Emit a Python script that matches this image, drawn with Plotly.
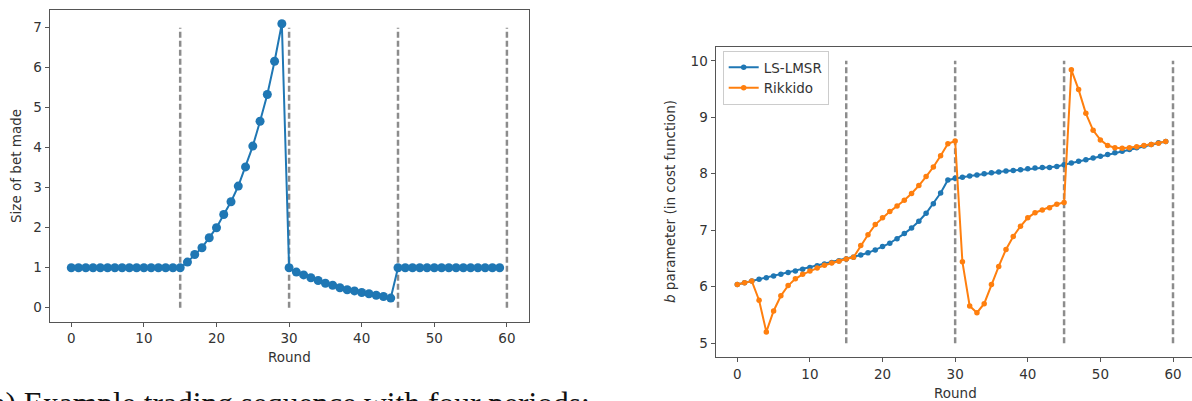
import plotly.graph_objects as go

W, H = 1192, 401

# ---- data ----
rounds = list(range(60))
bet_size = [1.0] * 16 + [1.14, 1.33, 1.50, 1.75, 2.00, 2.33, 2.65, 3.04, 3.52, 4.04, 4.66, 5.33, 6.16, 7.10,
             1.00, 0.89, 0.82, 0.75, 0.68, 0.61, 0.56, 0.50, 0.45, 0.42, 0.38, 0.35, 0.31, 0.28, 0.24] + [1.0] * 15

ls_lmsr = [6.04, 6.07, 6.10, 6.13, 6.16, 6.19, 6.22, 6.25, 6.28, 6.31, 6.34, 6.37, 6.40, 6.43, 6.46,
           6.49, 6.52, 6.56, 6.60, 6.65, 6.71, 6.77, 6.85, 6.94, 7.04, 7.16, 7.30, 7.47, 7.66, 7.89,
           7.92, 7.94, 7.96, 7.98, 8.00, 8.02, 8.03, 8.05, 8.06, 8.07, 8.09, 8.10, 8.11, 8.11, 8.13,
           8.16, 8.19, 8.22, 8.25, 8.28, 8.31, 8.34, 8.37, 8.40, 8.43, 8.46, 8.49, 8.52, 8.55, 8.57]

rikkido = [6.04, 6.07, 6.10, 5.76, 5.20, 5.57, 5.84, 6.02, 6.14, 6.22, 6.28, 6.33, 6.38, 6.42, 6.45,
           6.49, 6.52, 6.73, 6.92, 7.10, 7.22, 7.33, 7.43, 7.53, 7.65, 7.79, 7.95, 8.12, 8.32, 8.53,
           8.58, 6.44, 5.66, 5.54, 5.70, 6.04, 6.36, 6.66, 6.89, 7.07, 7.22, 7.31, 7.36, 7.40, 7.46,
           7.49, 9.84, 9.49, 9.07, 8.77, 8.60, 8.50, 8.46, 8.45, 8.46, 8.48, 8.50, 8.52, 8.54, 8.57]

period_bounds = [15, 30, 45, 60]
left_vline_span = [0, 7]
right_vline_span = [5, 10]

x_ticks = [0, 10, 20, 30, 40, 50, 60]
left_y_ticks = [0, 1, 2, 3, 4, 5, 6, 7]
right_y_ticks = [5, 6, 7, 8, 9, 10]

BLUE = "#1f77b4"
ORANGE = "#ff7f0e"
GRAY = "#8c8c8c"
AX = "#555555"
TXT = "#333333"
FONT = "DejaVu Sans"
FS = 13.5

fig = go.Figure()

# vertical dashed lines (period boundaries)
for b in period_bounds:
    fig.add_trace(go.Scatter(x=[b, b], y=left_vline_span, mode="lines", xaxis="x", yaxis="y",
                             line=dict(color=GRAY, width=2.5, dash="6px,3px"), showlegend=False,
                             hoverinfo="skip"))
    fig.add_trace(go.Scatter(x=[b, b], y=right_vline_span, mode="lines", xaxis="x2", yaxis="y2",
                             line=dict(color=GRAY, width=2.5, dash="6px,3px"), showlegend=False,
                             hoverinfo="skip"))

fig.add_trace(go.Scatter(x=rounds, y=bet_size, mode="lines+markers", xaxis="x", yaxis="y",
                         line=dict(color=BLUE, width=2), marker=dict(color=BLUE, size=9),
                         showlegend=False))

fig.add_trace(go.Scatter(x=rounds, y=ls_lmsr, mode="lines+markers", xaxis="x2", yaxis="y2",
                         name="LS-LMSR", line=dict(color=BLUE, width=2),
                         marker=dict(color=BLUE, size=5.5)))
fig.add_trace(go.Scatter(x=rounds, y=rikkido, mode="lines+markers", xaxis="x2", yaxis="y2",
                         name="Rikkido", line=dict(color=ORANGE, width=2),
                         marker=dict(color=ORANGE, size=5.5)))

def px_x(p):
    return p / W

def px_y(p):
    return 1 - p / H

axis_common = dict(showgrid=False, zeroline=False, showline=True, linecolor=AX, linewidth=1,
                   ticks="outside", ticklen=4, tickwidth=1, tickcolor=AX,
                   tickfont=dict(family=FONT, size=FS, color=TXT))

fig.update_layout(
    xaxis=dict(axis_common, domain=[px_x(49.5), px_x(528.7)], range=[-3, 63], tickvals=x_ticks,
               mirror=True, anchor="y"),
    yaxis=dict(axis_common, domain=[px_y(321.9), px_y(9.5)], range=[-0.355, 7.455],
               tickvals=left_y_ticks, mirror=True, anchor="x"),
    xaxis2=dict(axis_common, domain=[px_x(715.5), 1.0], range=[-3, -3 + (W - 715.5) / 7.262],
                tickvals=x_ticks, mirror=True, anchor="y2"),
    yaxis2=dict(axis_common, domain=[px_y(357.3), px_y(46.7)], range=[4.75, 10.25],
                tickvals=right_y_ticks, mirror=False, anchor="x2"),
)

annotations = [
    dict(text="Round", x=px_x(289), y=px_y(357), xref="paper", yref="paper",
         showarrow=False, font=dict(family=FONT, size=FS, color=TXT), xanchor="center", yanchor="middle"),
    dict(text="Size of bet made", x=px_x(16), y=px_y(166), xref="paper", yref="paper", textangle=-90,
         showarrow=False, font=dict(family=FONT, size=FS, color=TXT), xanchor="center", yanchor="middle"),
    dict(text="Round", x=px_x(955), y=px_y(392.5), xref="paper", yref="paper",
         showarrow=False, font=dict(family=FONT, size=FS, color=TXT), xanchor="center", yanchor="middle"),
    dict(text="<i>b</i> parameter (in cost function)", x=px_x(670), y=px_y(202), xref="paper",
         yref="paper", textangle=-90, showarrow=False, font=dict(family=FONT, size=FS, color=TXT),
         xanchor="center", yanchor="middle"),
    dict(text="(a) Example trading sequence with four periods:", x=px_x(-21), y=px_y(384),
         xref="paper", yref="paper", showarrow=False, xanchor="left", yanchor="top",
         font=dict(family="Liberation Serif", size=31.5, color="#111111")),
]

fig.update_layout(
    width=W, height=H, margin=dict(l=0, r=0, t=0, b=0),
    paper_bgcolor="white", plot_bgcolor="white",
    annotations=annotations,
    legend=dict(x=px_x(722.7), y=px_y(51), xanchor="left", yanchor="top",
                bgcolor="rgba(255,255,255,0.9)", bordercolor="#cccccc", borderwidth=1,
                font=dict(family=FONT, size=FS, color=TXT), tracegroupgap=0, itemwidth=30),
)

fig.write_html("out.html", config={"displayModeBar": False},
               post_script="document.body.style.margin='0px';document.body.style.overflow='hidden';")
